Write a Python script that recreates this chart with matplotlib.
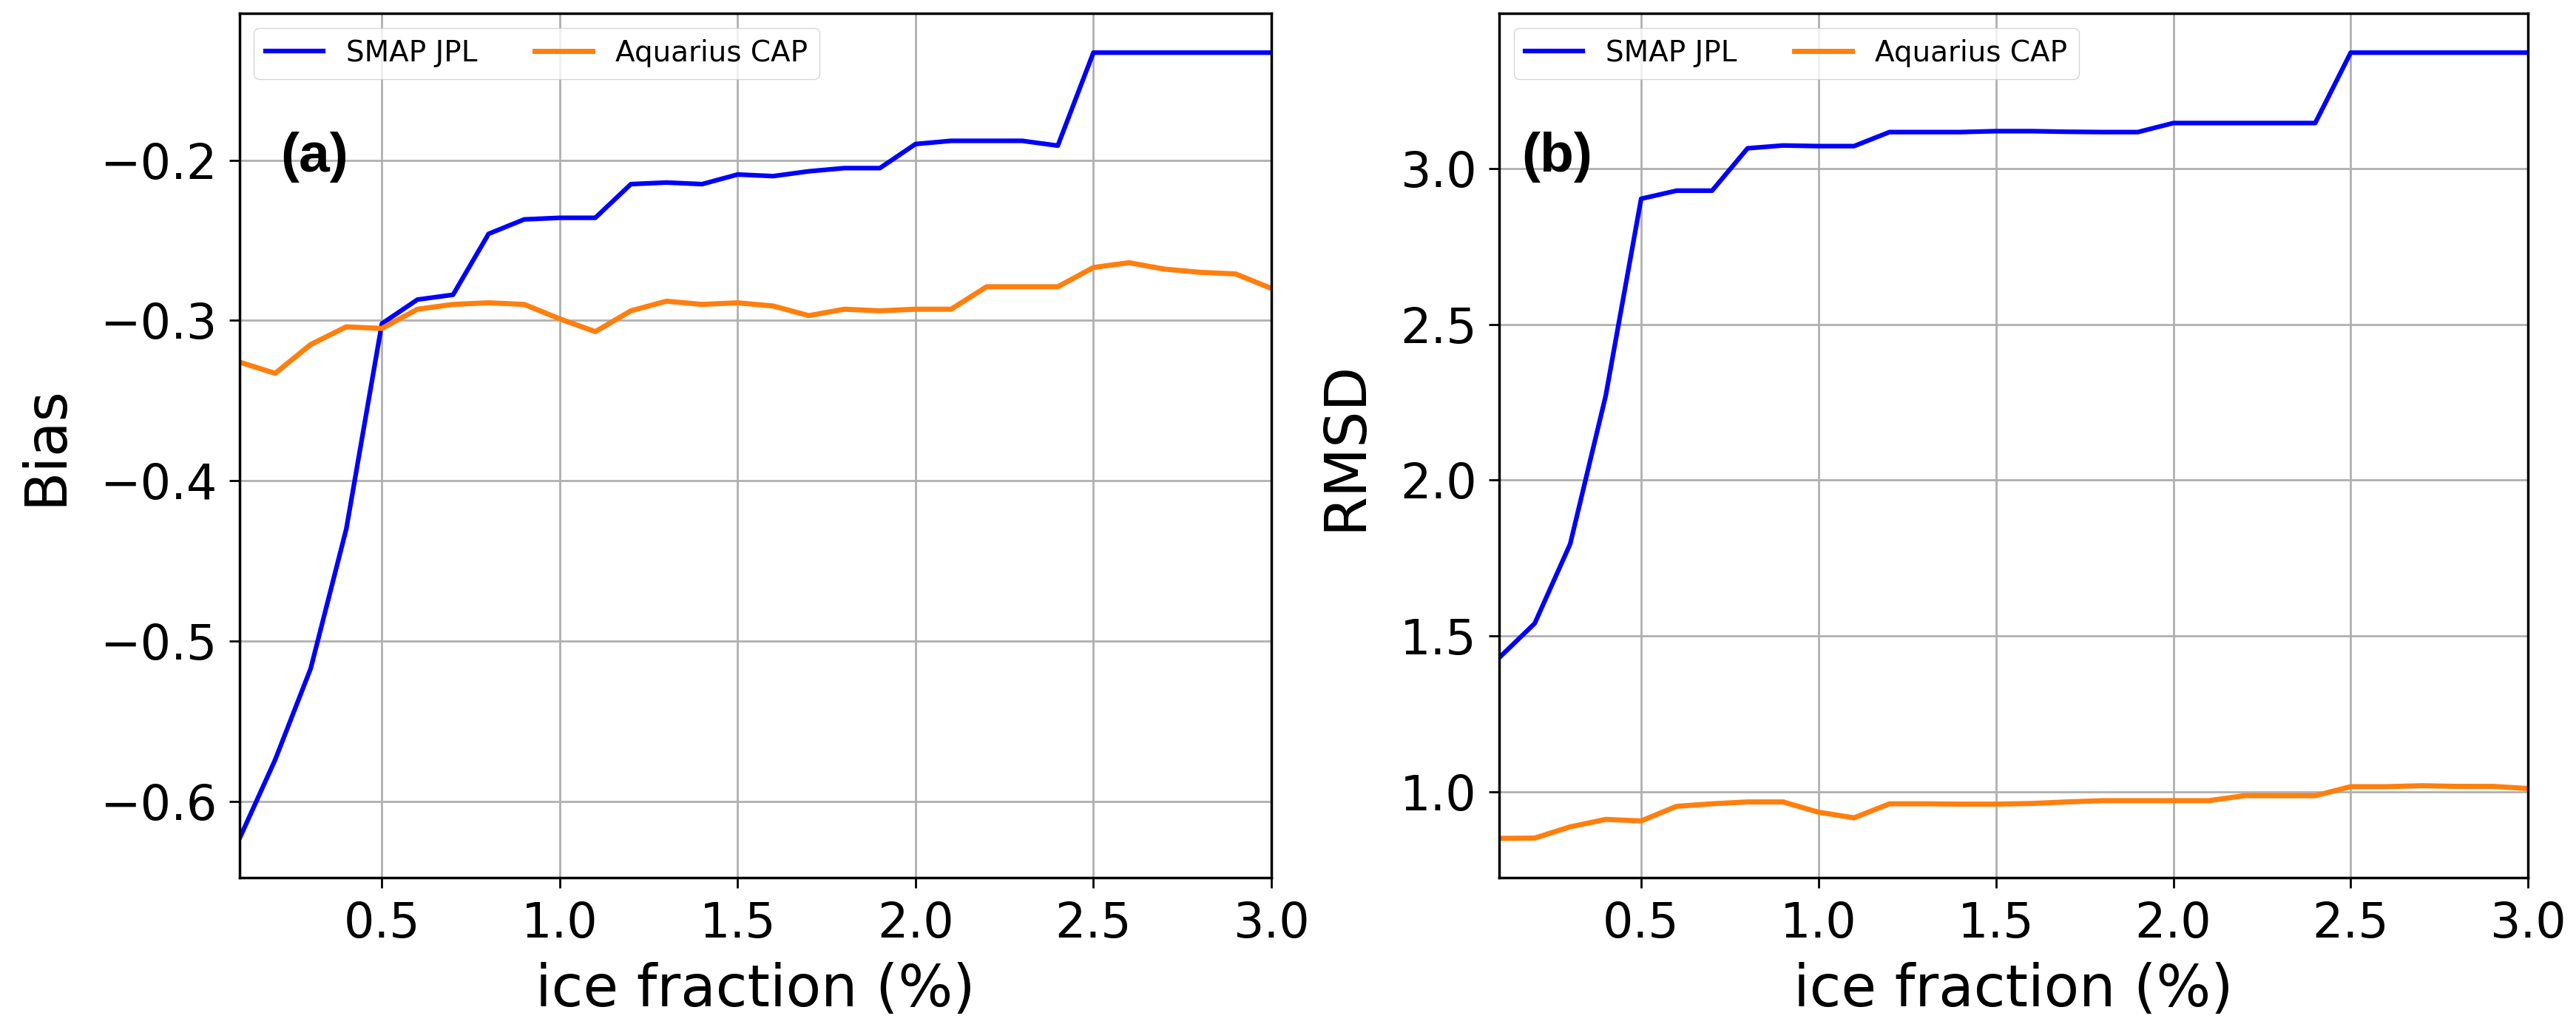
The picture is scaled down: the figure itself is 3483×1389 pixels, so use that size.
import matplotlib
matplotlib.use("Agg")
import matplotlib.pyplot as plt
import numpy as np

ice_fraction = [0.1, 0.2, 0.3, 0.4, 0.5, 0.6, 0.7, 0.8, 0.9, 1.0,
                1.1, 1.2, 1.3, 1.4, 1.5, 1.6, 1.7, 1.8, 1.9, 2.0,
                2.1, 2.2, 2.3, 2.4, 2.5, 2.6, 2.7, 2.8, 2.9, 3.0]

smap_bias = [-0.623, -0.574, -0.517, -0.430, -0.302, -0.287, -0.284, -0.246, -0.237, -0.236,
             -0.236, -0.215, -0.214, -0.215, -0.209, -0.210, -0.207, -0.205, -0.205, -0.190,
             -0.188, -0.188, -0.188, -0.191, -0.133, -0.133, -0.133, -0.133, -0.133, -0.133]
aq_bias = [-0.326, -0.333, -0.315, -0.304, -0.305, -0.293, -0.290, -0.289, -0.290, -0.299,
           -0.307, -0.294, -0.288, -0.290, -0.289, -0.291, -0.297, -0.293, -0.294, -0.293,
           -0.293, -0.279, -0.279, -0.279, -0.267, -0.264, -0.268, -0.270, -0.271, -0.280]

smap_rmsd = [1.43, 1.54, 1.795, 2.27, 2.903, 2.929, 2.929, 3.065, 3.074, 3.072,
             3.072, 3.117, 3.117, 3.117, 3.12, 3.12, 3.118, 3.117, 3.117, 3.146,
             3.146, 3.146, 3.146, 3.146, 3.372, 3.372, 3.372, 3.372, 3.372, 3.372]
aq_rmsd = [0.850, 0.851, 0.887, 0.911, 0.906, 0.953, 0.961, 0.967, 0.967, 0.934,
           0.916, 0.961, 0.961, 0.960, 0.960, 0.962, 0.967, 0.971, 0.971, 0.971,
           0.971, 0.987, 0.987, 0.987, 1.016, 1.016, 1.019, 1.017, 1.017, 1.010]

series_names = ["SMAP JPL", "Aquarius CAP"]
panel_labels = ["(a)", "(b)"]
y_labels = ["Bias", "RMSD"]
x_label = "ice fraction (%)"
x_ticks = [0.5, 1.0, 1.5, 2.0, 2.5, 3.0]

fig = plt.figure(figsize=(34.83, 13.89), dpi=100)
ax1 = fig.add_axes([0.0930, 0.1454, 0.4005, 0.8416])
ax2 = fig.add_axes([0.5820, 0.1454, 0.3994, 0.8416])

panels = [(ax1, smap_bias, aq_bias, 0.040), (ax2, smap_rmsd, aq_rmsd, 0.022)]
for i, (ax, s, a, tx) in enumerate(panels):
    ax.plot(ice_fraction, s, color="#0000ff", lw=4.5, label=series_names[0])
    ax.plot(ice_fraction, a, color="#ff7f0e", lw=5, label=series_names[1])
    ax.set_xlim(0.1, 3.0)
    ax.set_xticks(x_ticks)
    ax.grid(True, color="#b0b0b0", lw=2)
    ax.tick_params(labelsize=47, length=10, width=2, pad=12)
    for sp in ax.spines.values():
        sp.set_linewidth(2.5)
    ax.set_xlabel(x_label, fontsize=56, labelpad=14)
    ax.set_ylabel(y_labels[i], fontsize=56, labelpad=26)
    ax.text(tx, 0.834, panel_labels[i], transform=ax.transAxes, fontsize=54,
            fontweight="bold", family="Liberation Sans", va="center", ha="left")
    ax.legend(loc="upper left", ncol=2, fontsize=28, borderaxespad=0.5)

fig.savefig("out.png", dpi=100)
